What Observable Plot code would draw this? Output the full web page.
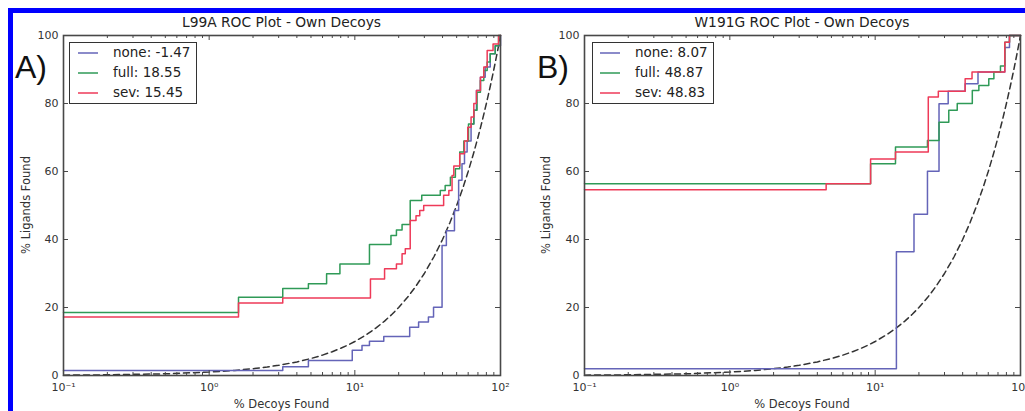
<!DOCTYPE html>
<html>
<head>
<meta charset="utf-8">
<script src="https://cdn.jsdelivr.net/npm/d3@7"></script>
<script src="https://cdn.jsdelivr.net/npm/@observablehq/plot@0.6"></script>
<style>
  html, body { margin: 0; padding: 0; background: #fff; }
  body { width: 1025px; height: 411px; overflow: hidden; position: relative; font-family: "DejaVu Sans", sans-serif; color: #333; }
  .border { position: absolute; left: 8px; top: 8px; width: 2000px; height: 2000px; border-top: 5px solid #0000ff; border-left: 5px solid #0000ff; box-sizing: border-box; }
  .panel { position: absolute; top: 0; height: 411px; }
  .panel svg { display: block; }
  .title { position: absolute; font-size: 13.8px; line-height: 1; white-space: nowrap; transform: translateX(-50%); color: #222; }
  .xlabel { position: absolute; font-size: 11.5px; line-height: 1; white-space: nowrap; transform: translateX(-50%); color: #333; }
  .ylabel { position: absolute; font-size: 11.5px; line-height: 1; white-space: nowrap; transform: translate(-50%, -50%) rotate(-90deg); color: #333; }
  .letter { position: absolute; font-family: "Liberation Sans", Arial, sans-serif; font-size: 32px; line-height: 1; color: #111; }
  .legend { position: absolute; background: #fff; border: 1.5px solid #333; box-sizing: border-box; }
  .legend .row { position: absolute; font-size: 13.5px; line-height: 1; white-space: nowrap; color: #222; }
  .legend svg { position: absolute; overflow: visible; }
</style>
</head>
<body>
<div class="border"></div>
<script>
// ---------- data ----------
const seriesNames = ["none", "full", "sev"];
const seriesColors = ["#6464b8", "#2f9a57", "#ee3a58"];
const panelTitles = ["L99A ROC Plot - Own Decoys", "W191G ROC Plot - Own Decoys"];
const panelLetters = ["A)", "B)"];
const legendScoresA = ["-1.47", "18.55", "15.45"];
const legendScoresB = ["8.07", "48.87", "48.83"];
const xLabel = "% Decoys Found";
const yLabel = "% Ligands Found";

const xTicks = [0.1, 1, 10, 100];
const xTickLabels = ["10⁻¹", "10⁰", "10¹", "10²"];
const xMinorTicks = [0.2, 0.3, 0.4, 0.5, 0.6, 0.7, 0.8, 0.9, 2, 3, 4, 5, 6, 7, 8, 9, 20, 30, 40, 50, 60, 70, 80, 90];
const yTicks = [0, 20, 40, 60, 80, 100];

// random (diagonal) reference line: % ligands = % decoys
const randomX = [0.1, 0.2, 0.5, 1, 1.5, 2, 2.5, 3, 4, 5, 6, 7, 8, 9, 10, 12, 14, 16, 18, 20, 23, 26, 30, 35, 40, 45, 50, 55, 60, 65, 70, 75, 80, 85, 90, 95, 100];
const randomY = [0.1, 0.2, 0.5, 1, 1.5, 2, 2.5, 3, 4, 5, 6, 7, 8, 9, 10, 12, 14, 16, 18, 20, 23, 26, 30, 35, 40, 45, 50, 55, 60, 65, 70, 75, 80, 85, 90, 95, 100];

// Panel A (L99A) step curves
const aNoneX = [0.1, 3.2, 4.8, 9.6, 11.2, 12.6, 15.8, 23.8, 27.4, 32, 34.7, 39.7, 42.5, 48.3, 51.6, 54.4, 56.6, 59, 62.8, 65.6, 68.4, 72.8, 78.5, 85, 92, 100];
const aNoneY = [1.5, 2.6, 4.4, 7.4, 8.8, 10.1, 11.5, 14.2, 15.7, 17.2, 20.1, 38.2, 42.6, 48.5, 57.4, 62.3, 65.7, 69, 74, 78, 83.8, 87.7, 90.7, 94.6, 97, 100];
const aFullX = [0.1, 1.59, 3.2, 4.8, 6.4, 7.9, 12.6, 17.7, 19.3, 21.1, 24, 28.8, 38.6, 41.7, 45.3, 49, 52.5, 56, 60.3, 65.6, 69, 72.8, 76.8, 81, 85, 92, 97, 100];
const aFullY = [18.5, 23, 25.6, 27, 29.9, 32.8, 38.5, 41.2, 42.8, 44.4, 51.5, 53, 54.4, 55.9, 58.3, 60.8, 65.7, 69, 74, 78, 83.3, 86.8, 89.7, 92.2, 94.6, 97, 100, 100];
const aSevX = [0.1, 1.59, 3.2, 12.8, 16, 19.3, 21.1, 22.2, 24, 26.3, 27.9, 29.7, 40.7, 44.2, 46.5, 47.8, 52.5, 56.6, 59.6, 62.8, 65.6, 68.4, 72.8, 76.8, 81, 88.9, 97, 100];
const aSevY = [17.2, 21.3, 22.8, 28.4, 31.4, 32.8, 35.8, 37.3, 45.6, 47, 48.5, 50, 53, 54.4, 58.8, 61.6, 65.2, 69, 73, 76, 80, 83.8, 87.7, 90.7, 95.6, 97.5, 100, 100];

// Panel B (W191G) step curves
const bNoneX = [0.1, 14, 18.5, 22.9, 27.5, 31.8, 41.6, 51, 78, 84, 100];
const bNoneY = [2.0, 36.4, 47.4, 60.1, 79.9, 83.6, 85.8, 89.3, 96.5, 100, 100];
const bFullX = [0.1, 9.3, 13.8, 22.9, 27.5, 32.1, 36.7, 46.6, 51.7, 60.5, 65.6, 72.8, 78, 84, 100];
const bFullY = [56.4, 62.3, 67.2, 69.1, 74.5, 78, 80, 83.8, 85.3, 87.3, 89.3, 91, 98, 100, 100];
const bSevX = [0.1, 4.6, 9.3, 13.8, 23.2, 27.2, 41.6, 46.4, 78, 84, 100];
const bSevY = [54.6, 56.4, 63.7, 65.7, 81.9, 83.6, 87.3, 89.3, 98, 100, 100];

// ---------- helpers ----------
const zip = (xs, ys) => xs.map((x, i) => ({x, y: ys[i]}));
const frameColor = "#484848";

function makePanel(cfg) {
  const W = cfg.width, H = 411;
  const mL = cfg.marginLeft, mR = cfg.marginRight, mT = 35, mB = 36;
  const pw = W - mL - mR, ph = H - mT - mB;
  const curves = cfg.series.map(([xs, ys], i) => ({name: seriesNames[i], data: zip(xs, ys), color: seriesColors[i]}));
  const chart = Plot.plot({
    width: W, height: H,
    marginLeft: mL, marginRight: mR, marginTop: mT, marginBottom: mB,
    x: {type: "log", domain: [0.1, 100]},
    y: {domain: [0, 100]},
    style: {fontFamily: "DejaVu Sans, sans-serif", fontSize: "11px", color: "#333", background: "transparent", overflow: "visible"},
    marks: [
      Plot.axisX({ticks: xTicks, tickSize: 0, tickPadding: 8, tickFormat: d => xTickLabels[xTicks.indexOf(d)], label: null, fontSize: 11}),
      Plot.axisY({ticks: yTicks, tickSize: 0, tickPadding: 5, label: null, fontSize: 11}),
      Plot.line(zip(randomX, randomY), {x: "x", y: "y", stroke: "#333", strokeWidth: 1.5, strokeDasharray: "6,4"}),
      ...curves.map(c => Plot.line(c.data, {x: "x", y: "y", curve: "step-after", stroke: c.color, strokeWidth: 1.5})),
      Plot.tickX(xTicks, {x: d => d, insetTop: ph - 5, stroke: frameColor, strokeWidth: 1}),
      Plot.tickX(xTicks, {x: d => d, insetBottom: ph - 5, stroke: frameColor, strokeWidth: 1}),
      Plot.tickX(xMinorTicks, {x: d => d, insetTop: ph - 3, stroke: frameColor, strokeWidth: 1}),
      Plot.tickX(xMinorTicks, {x: d => d, insetBottom: ph - 3, stroke: frameColor, strokeWidth: 1}),
      Plot.tickY(yTicks, {y: d => d, insetRight: pw - 5, stroke: frameColor, strokeWidth: 1}),
      Plot.tickY(yTicks, {y: d => d, insetLeft: pw - 5, stroke: frameColor, strokeWidth: 1}),
      Plot.frame({stroke: frameColor, strokeWidth: 1.6})
    ]
  });
  const div = document.createElement("div");
  div.className = "panel";
  div.style.left = cfg.left + "px";
  div.style.width = W + "px";
  div.appendChild(chart);
  document.body.appendChild(div);

  const cx = cfg.left + mL + pw / 2;
  const t = document.createElement("div");
  t.className = "title"; t.textContent = cfg.title;
  t.style.left = cx + "px"; t.style.top = "16px";
  document.body.appendChild(t);

  const xl = document.createElement("div");
  xl.className = "xlabel"; xl.textContent = xLabel;
  xl.style.left = cx + "px"; xl.style.top = "399px";
  document.body.appendChild(xl);

  const yl = document.createElement("div");
  yl.className = "ylabel"; yl.textContent = yLabel;
  yl.style.left = cfg.yLabelX + "px"; yl.style.top = (mT + ph / 2) + "px";
  document.body.appendChild(yl);

  const L = document.createElement("div");
  L.className = "letter"; L.textContent = cfg.letter;
  L.style.left = cfg.letterX + "px"; L.style.top = "51px";
  document.body.appendChild(L);

  const lg = document.createElement("div");
  lg.className = "legend";
  lg.style.left = cfg.legend.left + "px"; lg.style.top = "42px";
  lg.style.width = cfg.legend.width + "px"; lg.style.height = "62px";
  curves.forEach((c, i) => {
    const cyRow = 10 + i * 20;
    const svg = document.createElementNS("http://www.w3.org/2000/svg", "svg");
    svg.setAttribute("width", 20); svg.setAttribute("height", 4);
    svg.style.left = cfg.legend.lineX + "px"; svg.style.top = (cyRow - 2) + "px";
    const ln = document.createElementNS("http://www.w3.org/2000/svg", "line");
    ln.setAttribute("x1", 0); ln.setAttribute("x2", 20); ln.setAttribute("y1", 2); ln.setAttribute("y2", 2);
    ln.setAttribute("stroke", c.color); ln.setAttribute("stroke-width", 1.5);
    svg.appendChild(ln);
    lg.appendChild(svg);
    const r = document.createElement("div");
    r.className = "row";
    r.textContent = c.name + ": " + cfg.scores[i];
    r.style.left = cfg.legend.textX + "px"; r.style.top = (cyRow - 7) + "px";
    lg.appendChild(r);
  });
  document.body.appendChild(lg);
}

makePanel({
  left: 0, width: 512, marginLeft: 63, marginRight: 12,
  title: panelTitles[0], letter: panelLetters[0], letterX: 15, yLabelX: 27,
  scores: legendScoresA,
  legend: {left: 69, width: 128, lineX: 8, textX: 43},
  series: [[aNoneX, aNoneY], [aFullX, aFullY], [aSevX, aSevY]]
});
makePanel({
  left: 512, width: 513, marginLeft: 72, marginRight: 5,
  title: panelTitles[1], letter: panelLetters[1], letterX: 537, yLabelX: 547,
  scores: legendScoresB,
  legend: {left: 592, width: 122, lineX: 7, textX: 42},
  series: [[bNoneX, bNoneY], [bFullX, bFullY], [bSevX, bSevY]]
});
</script>
</body>
</html>
